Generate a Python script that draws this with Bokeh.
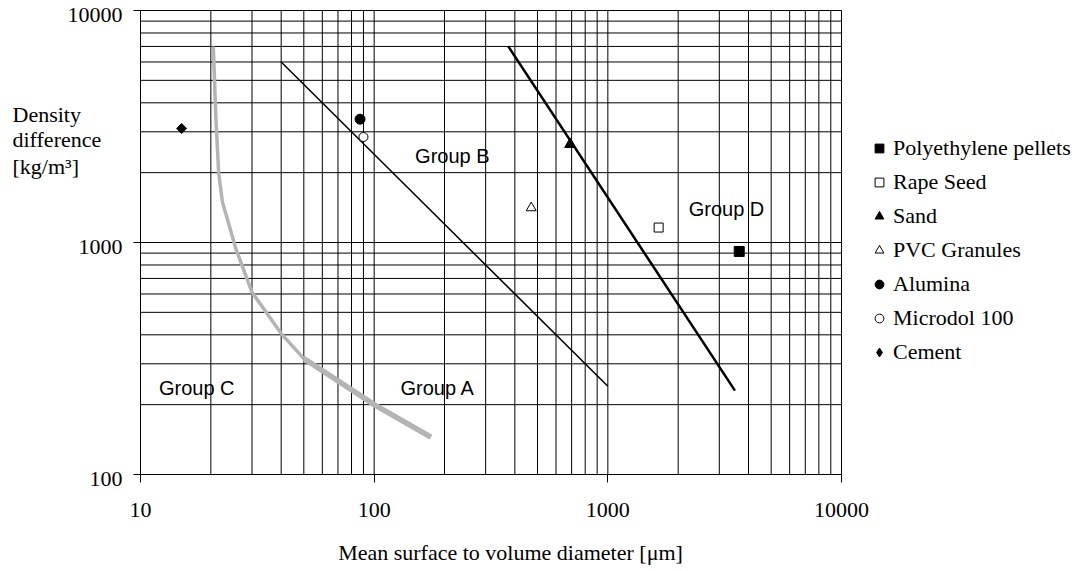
from bokeh.plotting import figure
from bokeh.models import (Range1d, FixedTicker, Label, Legend, LegendItem,
                          LogAxis, NumeralTickFormatter)
from bokeh.embed import file_html
from bokeh.resources import INLINE

# Group A / Group C boundary: thin upper branch and heavy lower branch
ac_upper_d = [20.5, 21.0, 21.6, 22.4, 24.3, 25.5, 30, 40, 50]
ac_upper_rho = [7000, 3500, 2000, 1500, 1130, 950, 610, 405, 316]
ac_lower_d = [50, 100, 175]
ac_lower_rho = [316, 200, 145]

# Group A / Group B boundary
ab_d = [40, 1000]
ab_rho = [6000, 240]

# Group B / Group D boundary
bd_d = [375, 3500]
bd_rho = [7000, 230]

# Measured materials
materials = ["Polyethylene pellets", "Rape Seed", "Sand", "PVC Granules",
             "Alumina", "Microdol 100", "Cement"]
mat_d = [3650, 1650, 690, 470, 87, 90, 15]
mat_rho = [915, 1160, 2650, 1410, 3400, 2850, 3100]
mat_marker = ["square", "square", "triangle", "triangle", "circle", "circle", "square"]
mat_fill = ["black", "white", "black", "white", "black", "white", "black"]
mat_size = [10, 9, 11, 10, 10, 9, 7]
mat_angle = [0, 0, 0, 0, 0, 0, 0.785398]
# legend swatch shapes (the legend does not rotate markers)
key_marker = ["square", "square", "triangle", "triangle", "circle", "circle", "diamond"]

# Region labels
group_names = ["Group A", "Group B", "Group C", "Group D"]
group_d = [187, 216, 17.4, 3220]
group_rho = [235, 2350, 235, 1395]

# Axes
x_lo, x_hi = 10, 10000
y_lo, y_hi = 100, 10000
x_ticks = [10, 100, 1000, 10000]
y_ticks = [100, 1000, 10000]
y_tick_text = ["100", "1000", "10000"]
x_minor = [m * dec for dec in (10, 100, 1000) for m in range(2, 10)]
y_minor = [m * dec for dec in (100, 1000) for m in range(2, 10)]

SERIF = "Liberation Serif"
SANS = "Liberation Sans"

# page and plot-box geometry (pixels)
W, H = 1085, 571
BOX_L, BOX_R, BOX_T, BOX_B = 140, 841, 10, 474

# the canvas is the drawing area; the log ranges are widened so that the
# decades 10..10000 and 100..10000 land on the plot box
xdec = (BOX_R - BOX_L) / 3.0
ydec = (BOX_B - BOX_T) / 2.0
x_range = Range1d(10 ** (1 - BOX_L / xdec), 10 ** (4 + (W - BOX_R) / xdec))
y_range = Range1d(10 ** (2 - (H - BOX_B) / ydec), 10 ** (4 + BOX_T / ydec))

p = figure(width=W, height=H, x_axis_type="log", y_axis_type="log",
           x_axis_location=None, y_axis_location=None,
           x_range=x_range, y_range=y_range,
           output_backend="svg", toolbar_location=None, min_border=0)
p.background_fill_color = "white"
p.border_fill_color = "white"
p.outline_line_color = None
p.grid.visible = False

# grid: every decade and sub-decade line, bounded by the plot box
vx = x_ticks + x_minor
p.segment(x0=vx, y0=[y_lo] * len(vx), x1=vx, y1=[y_hi] * len(vx),
          line_color="black", line_width=1)
hy = y_ticks + y_minor
p.segment(x0=[x_lo] * len(hy), y0=hy, x1=[x_hi] * len(hy), y1=hy,
          line_color="black", line_width=1)

xaxis = LogAxis(fixed_location=y_lo, bounds=(x_lo, x_hi),
                ticker=FixedTicker(ticks=x_ticks),
                formatter=NumeralTickFormatter(format="0"))
yaxis = LogAxis(fixed_location=x_lo, bounds=(y_lo, y_hi),
                ticker=FixedTicker(ticks=y_ticks))
for ax in (xaxis, yaxis):
    ax.axis_line_color = "black"
    ax.major_tick_line_color = "black"
    ax.major_tick_in = 0
    ax.minor_tick_line_color = None
    ax.major_label_text_font = SERIF
    ax.major_label_text_font_size = "22px"
    ax.major_label_text_color = "black"
xaxis.major_tick_out = 8
xaxis.major_label_standoff = 20
yaxis.major_tick_out = 7
yaxis.major_label_text_color = None
p.add_layout(xaxis, "below")
p.add_layout(yaxis, "left")

# y tick labels sit a little below their ticks
for v, t in zip(y_ticks, y_tick_text):
    p.add_layout(Label(x=x_lo, y=v, text=t, x_offset=-18, y_offset=-4,
                       text_align="right", text_baseline="middle",
                       text_font=SERIF, text_font_size="22px", text_color="black"))

# boundaries
p.line(ac_upper_d, ac_upper_rho, line_color="#b4b4b4", line_width=3.5)
p.line(ac_lower_d, ac_lower_rho, line_color="#b4b4b4", line_width=5.5)
p.line(ab_d, ab_rho, line_color="black", line_width=1.5)
p.line(bd_d, bd_rho, line_color="black", line_width=2.5)

items = []
for i, name in enumerate(materials):
    r = p.scatter([mat_d[i]], [mat_rho[i]], marker=mat_marker[i], size=mat_size[i],
                  angle=mat_angle[i], fill_color=mat_fill[i], line_color="black",
                  line_width=1)
    if key_marker[i] != mat_marker[i] or mat_angle[i]:
        # tiny swatch renderer hidden under the rotated marker, used for the key
        r = p.scatter([mat_d[i]], [mat_rho[i]], marker=key_marker[i], size=1,
                      fill_color=mat_fill[i], line_color="black", line_width=1,
                      level="underlay")
    items.append(LegendItem(label=name, renderers=[r]))

legend = Legend(items=items, location=(868, H - 365), orientation="vertical",
                glyph_width=22, glyph_height=22, label_standoff=3, spacing=8,
                padding=0, margin=0, border_line_color=None,
                background_fill_alpha=0, label_height=20,
                label_text_font=SERIF, label_text_font_size="22px",
                label_text_color="black")
p.add_layout(legend)

for name, gd, gr in zip(group_names, group_d, group_rho):
    p.add_layout(Label(x=gd, y=gr, text=name, text_align="center",
                       text_baseline="middle", text_font=SANS,
                       text_font_size="20px", text_color="black"))

# axis titles
p.add_layout(Label(x=510, y=H - 552, x_units="screen", y_units="screen",
                   text="Mean surface to volume diameter [\u03bcm]",
                   text_align="center", text_baseline="middle",
                   text_font=SERIF, text_font_size="22px", text_color="black"))
for txt, yy in zip(["Density", "difference", "[kg/m\u00b3]"], [114, 139, 166]):
    p.add_layout(Label(x=12, y=H - yy, x_units="screen", y_units="screen",
                       text=txt, text_align="left", text_baseline="middle",
                       text_font=SERIF, text_font_size="22px", text_color="black"))

open("out.html", "w").write(file_html(p, INLINE))
